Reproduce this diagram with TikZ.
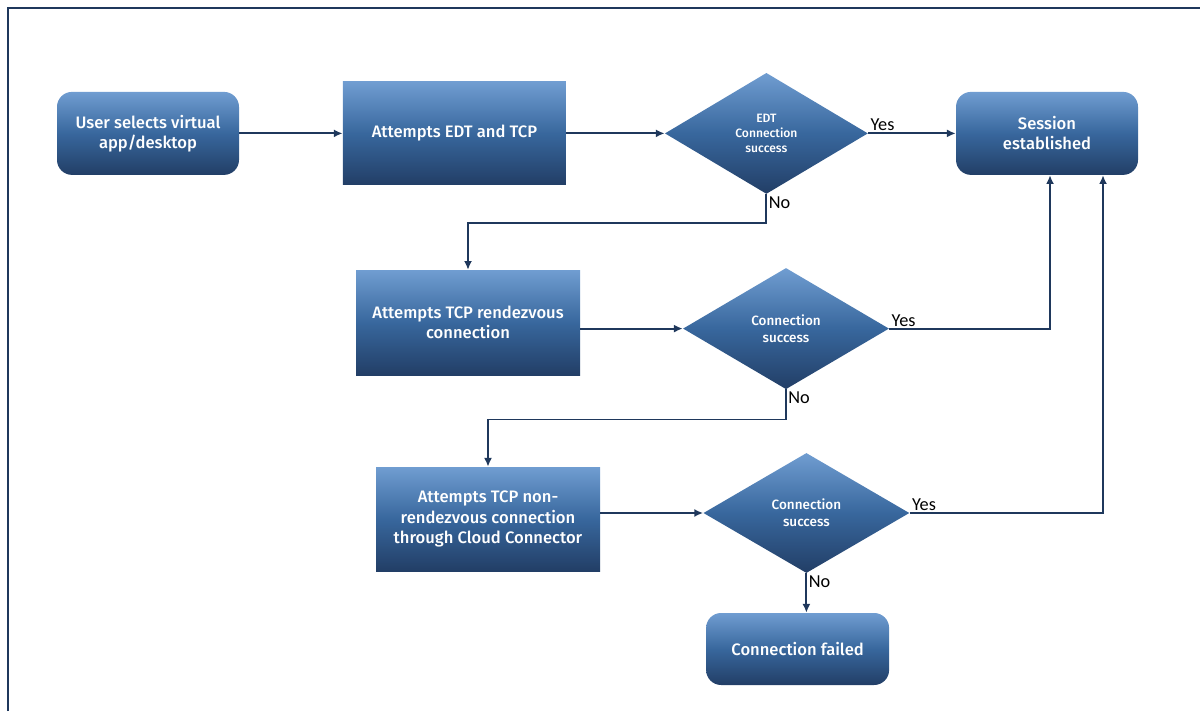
\documentclass[tikz,border=0pt]{standalone}
\usepackage{fontspec}
\setmainfont{Carlito}
\newfontfamily\boxfont{Fira Sans}[UprightFont={* Medium}]
\usetikzlibrary{shapes.geometric,arrows.meta}

\definecolor{navy}{RGB}{31,56,92}
\definecolor{boxtop}{RGB}{112,157,209}
\definecolor{boxmid}{RGB}{56,103,157}
\definecolor{boxbot}{RGB}{34,62,102}

\tikzset{
  bluefill/.style={top color=boxtop, bottom color=boxbot, middle color=boxmid,
    text=white, align=center, inner sep=0pt},
  roundbox/.style={bluefill, rounded corners=0.375cm, minimum width=4.55cm,
    minimum height=2.075cm, font=\boxfont\fontsize{11.8}{14.3}\selectfont},
  plainbox/.style={bluefill, minimum width=5.6cm, minimum height=2.6cm,
    font=\boxfont\fontsize{11.8}{14.3}\selectfont},
  decision/.style={bluefill, diamond, aspect=1.7, minimum width=5.15cm,
    minimum height=3.03cm, font=\boxfont\fontsize{9.6}{12}\selectfont},
  flow/.style={draw=navy, line width=1.3pt, -{Latex[length=2.2mm,width=2mm]}},
  lbl/.style={font=\fontsize{13}{15}\selectfont, text=black, inner sep=1.5pt}
}

\begin{document}
\begin{tikzpicture}
  \useasboundingbox (0,0) rectangle (30,17.775);
  % frame (cut off at right and bottom)
  \draw[navy, line width=1.4pt] (0.2,0) |- (30,17.575);

  % first row
  \node[roundbox] (user) at (3.70,14.44) {User selects virtual\\app/desktop};
  \node[plainbox, minimum width=5.575cm, minimum height=2.575cm] (edttcp) at (11.36,14.44) {Attempts EDT and TCP};
  \node[decision, minimum width=5.075cm, minimum height=3.025cm, font=\boxfont\fontsize{8.6}{10.6}\selectfont] (dec1) at (19.16,14.44) {EDT\\Connection\\success};
  \node[roundbox] (session) at (26.175,14.44) {Session\\established};

  % second row
  \node[plainbox, minimum height=2.625cm] (rendez) at (11.70,9.71) {Attempts TCP rendezvous\\connection};
  \node[decision] (dec2) at (19.65,9.56) {Connection\\success};

  % third row
  \node[plainbox] (nonrendez) at (12.20,4.80) {Attempts TCP non-\\rendezvous connection\\through Cloud Connector};
  \node[decision, minimum height=3.0cm] (dec3) at (20.16,4.95) {Connection\\success};
  \node[roundbox, minimum width=4.575cm, minimum height=1.8cm] (failed) at (19.94,1.55) {Connection failed};

  % connectors
  \draw[flow] (user) -- (edttcp);
  \draw[flow] (edttcp) -- (dec1);
  \draw[flow] (dec1) -- (session);
  \draw[flow] (dec1.south) -- ++(0,-0.725) -| (rendez.north);
  \draw[flow] (rendez.east |- dec2.west) -- (dec2.west);
  \draw[flow] (dec2.east) -| ([xshift=0.075cm]session.south);
  \draw[flow] (dec2.south) -- ++(0,-0.75) -| (nonrendez.north);
  \draw[flow] (nonrendez.east |- dec3.west) -- (dec3.west);
  \draw[flow] (dec3.east) -| ([xshift=1.4cm]session.south);
  \draw[flow] (dec3.south) -- (dec3.south |- failed.north);

  % yes / no labels
  \node[lbl, anchor=south west] (yes1) at (dec1.east) {Yes};
  \node[lbl, anchor=north west] (no1) at (dec1.south) {No};
  \node[lbl, anchor=south west] (yes2) at (dec2.east) {Yes};
  \node[lbl, anchor=north west] (no2) at (dec2.south) {No};
  \node[lbl, anchor=south west] (yes3) at (dec3.east) {Yes};
  \node[lbl, anchor=north west] (no3) at (dec3.south) {No};
\end{tikzpicture}
\end{document}
